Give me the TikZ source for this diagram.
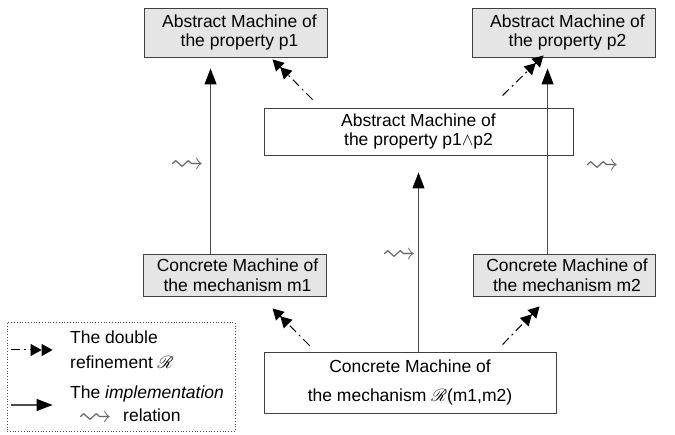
\documentclass[tikz,border=0pt]{standalone}
\usepackage{fontspec}
\setmainfont{Liberation Sans}
\usepackage{amssymb}
\usepackage{mathrsfs}
\usetikzlibrary{arrows.meta,calc}

\newcommand{\dref}{$\mathscr{R}$}

\begin{document}
\begin{tikzpicture}[x=1pt,y=-1pt,
  machine/.style={draw=black!75, line width=0.9pt, inner sep=0pt, align=center,
    font=\fontsize{17.5}{19.5}\selectfont},
  abstractbox/.style={machine, fill=black!10},
  concretebox/.style={machine, fill=white},
  impl/.style={draw=black!70, line width=1.1pt,
    -{Triangle[length=16pt,width=12pt,color=black]}},
  refine/.style={draw=black, line width=1pt, dash pattern=on 9pt off 4pt on 2pt off 4pt,
    -{Triangle[length=11pt,width=12pt]Triangle[length=11pt,width=12pt]}},
  squig/.style={text=black!60, inner sep=0pt, font=\fontsize{34}{34}\selectfont},
  legendtext/.style={anchor=west, inner sep=0pt, font=\fontsize{17.5}{19.5}\selectfont}
]
\useasboundingbox (0,0) rectangle (675,435);

% machines
\node[abstractbox, minimum width=183pt, minimum height=49pt] (p1) at (235.5,32.5)
  {\hspace*{8pt}Abstract Machine of\\\hspace*{8pt}the property p1};
\node[abstractbox, minimum width=183pt, minimum height=49pt] (p2) at (563.5,32.5)
  {\hspace*{8pt}Abstract Machine of\\\hspace*{8pt}the property p2};
\node[concretebox, minimum width=309pt, minimum height=47pt] (pq) at (418.5,131.5)
  {Abstract Machine of\\the property p1$\wedge$p2};
\node[abstractbox, minimum width=183pt, minimum height=42pt] (m1) at (234.5,275)
  {\hspace*{6pt}Concrete Machine of\\\hspace*{6pt}the mechanism m1};
\node[abstractbox, minimum width=182pt, minimum height=42pt] (m2) at (564,275)
  {\hspace*{6pt}Concrete Machine of\\\hspace*{6pt}the mechanism m2};
\node[concretebox, minimum width=292pt, minimum height=61pt,
  font=\fontsize{17.5}{29}\selectfont] (mr) at (410,382.5)
  {Concrete Machine of\\the mechanism \dref(m1,m2)};

% implementation arrows
\draw[impl] ($(m1.north west)+(68,0)$) -- ($(p1.south west)+(67,11)$);
\draw[impl] ($(m2.north west)+(75,0)$) -- ($(p2.south west)+(76,11)$);
\draw[impl] (mr.north -| pq.south) -- ($(pq.south)+(0,17)$);

\node[squig] (s1) at (187,166) {$\leadsto$};
\node[squig] (s2) at (602,167) {$\leadsto$};
\node[squig] (s3) at (399,256) {$\leadsto$};

% double refinement arrows
\draw[refine] ($(pq.north west)+(49,-8)$) -- ($(p1.south west)+(129,2)$);
\draw[refine] ($(pq.north west)+(239,-12)$) -- ($(p2.south west)+(72,-2)$);
\draw[refine] ($(mr.north west)+(46,-6)$) -- ($(m1.south west)+(130,12)$);
\draw[refine] ($(mr.north west)+(239,-7)$) -- ($(m2.south west)+(67,10)$);

% legend
\node[draw=black!70, dotted, line width=0.8pt, minimum width=228pt, minimum height=109pt,
  inner sep=0pt] (legend) at (121,377) {};
\coordinate (ra) at ($(legend.west)+(4,-27)$);
\coordinate (rb) at ($(legend.west)+(46,-27)$);
\draw[refine] (ra) -- (rb);
\coordinate (ia) at ($(legend.west)+(4,28)$);
\coordinate (ib) at ($(legend.west)+(46,28)$);
\draw[impl] (ia) -- (ib);
\node[legendtext] (l1) at (70,337) {The double};
\node[legendtext] (l2) at (70,362) {refinement \dref};
\node[legendtext] (l3) at (70,394) {The \textit{implementation}};
\node[squig] (l4) at (95,419) {$\leadsto$};
\node[legendtext] (l5) at (123,415) {relation};
\end{tikzpicture}
\end{document}
